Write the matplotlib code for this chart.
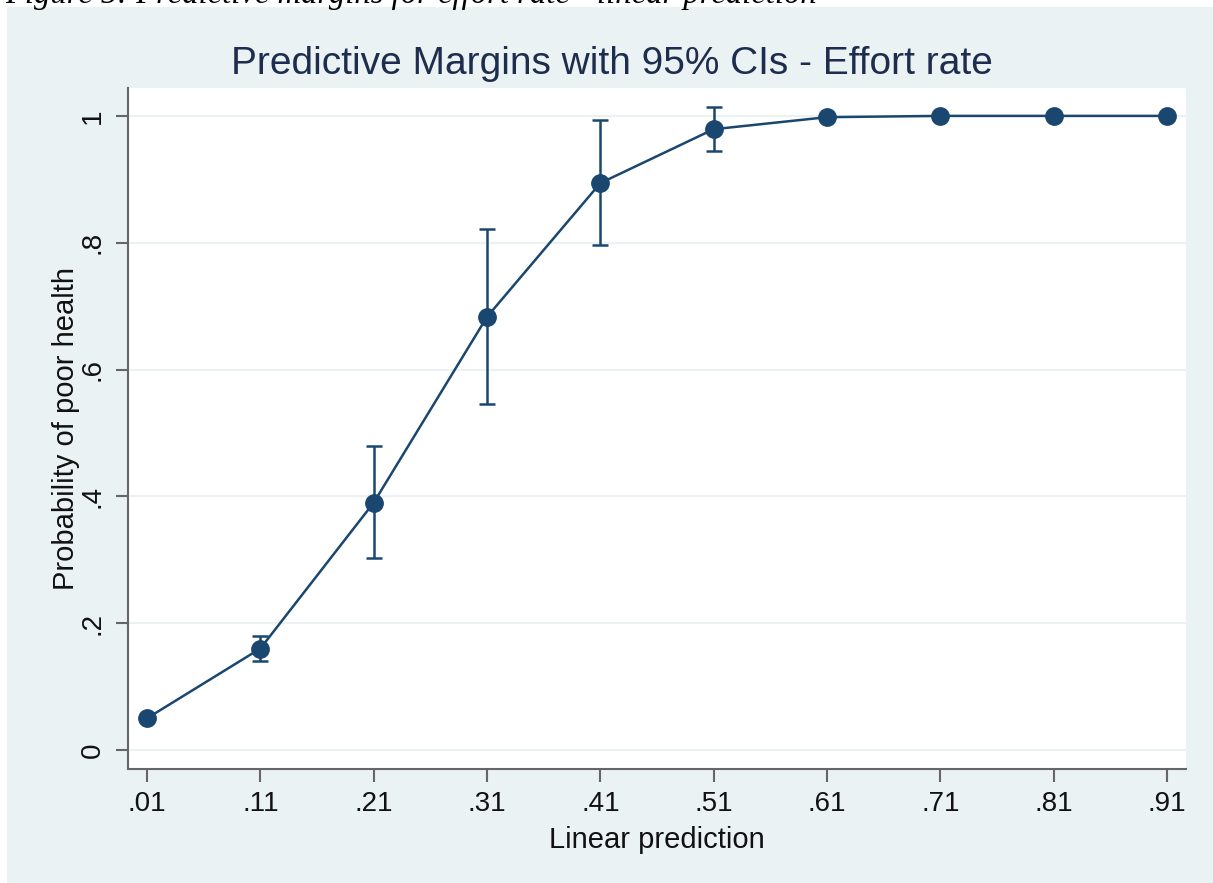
import numpy as np
import matplotlib.pyplot as plt
from matplotlib.patches import Rectangle

# values
x_vals = [0.01, 0.11, 0.21, 0.31, 0.41, 0.51, 0.61, 0.71, 0.81, 0.91]
margins = [0.050, 0.160, 0.390, 0.683, 0.894, 0.979, 0.998, 1.000, 1.000, 1.000]
ci_low = [0.050, 0.140, 0.302, 0.545, 0.796, 0.944, 0.998, 1.000, 1.000, 1.000]
ci_high = [0.050, 0.180, 0.479, 0.821, 0.994, 1.014, 0.998, 1.000, 1.000, 1.000]
has_ci = [False, True, True, True, True, True, False, False, False, False]
x_ticklabels = [".01", ".11", ".21", ".31", ".41", ".51", ".61", ".71", ".81", ".91"]
y_ticks = [0, 0.2, 0.4, 0.6, 0.8, 1.0]
y_ticklabels = ["0", ".2", ".4", ".6", ".8", "1"]

W, H = 1213, 883
navy = "#1a476f"
bg = "#eaf2f3"

plt.rcParams['font.family'] = ['Liberation Sans', 'DejaVu Sans']

fig = plt.figure(figsize=(W / 100, H / 100), dpi=100)
fig.patch.set_facecolor("white")

# stata graph region (behind the axes)
fig.patches.append(Rectangle((7 / W, 0), 1 - 7 / W, 1 - 7 / H, transform=fig.transFigure,
                             facecolor=bg, edgecolor="none", zorder=-10))

# caption of the document, cut off at the top
fig.text(5 / W, 1 - 3 / H, "Figure 5: Predictive margins for effort rate - linear prediction",
         family=['Liberation Serif'], style='italic', fontsize=23.5, color="black",
         va='baseline', ha='left', zorder=5)

ax = fig.add_axes([128 / W, (H - 769) / H, (1186 - 128) / W, (769 - 88) / H])
ax.set_facecolor("white")

x = np.array(x_vals)
m = np.array(margins)
lo = np.array(ci_low)
hi = np.array(ci_high)
mask = np.array(has_ci)

ax.errorbar(x[mask], m[mask], yerr=[m[mask] - lo[mask], hi[mask] - m[mask]],
            fmt='none', ecolor=navy, elinewidth=1.8, capsize=5.5, capthick=1.8, zorder=3)
ax.plot(x, m, color=navy, lw=1.8, marker='o', markersize=12.5,
        markerfacecolor=navy, markeredgecolor=navy, zorder=4)

ax.set_xlim(-0.0068, 0.9268)
ax.set_ylim(-0.03, 1.044)

ax.set_xticks(x_vals)
ax.set_xticklabels(x_ticklabels)
ax.set_yticks(y_ticks)
ax.set_yticklabels(y_ticklabels, rotation=90, va='center')

ax.grid(axis='y', color=bg, lw=1.5)
ax.set_axisbelow(True)

for s in ['top', 'right']:
    ax.spines[s].set_visible(False)
for s in ['left', 'bottom']:
    ax.spines[s].set_color("#666666")
    ax.spines[s].set_linewidth(1.5)

ax.tick_params(axis='both', direction='out', length=9, width=1.5, color="#666666",
               labelsize=20, labelcolor="#111111", pad=7)

ax.set_xlabel("Linear prediction", fontsize=21, color="#111111", labelpad=6)
ax.set_ylabel("Probability of poor health", fontsize=21, color="#111111", labelpad=0)

# title is centred on the whole graph region, not the plot area
fig.text(612 / W, 1 - 64 / H, "Predictive Margins with 95% CIs - Effort rate",
         fontsize=28, color="#1e2d4d", ha='center', va='center')

fig.savefig("out.png", dpi=100)
